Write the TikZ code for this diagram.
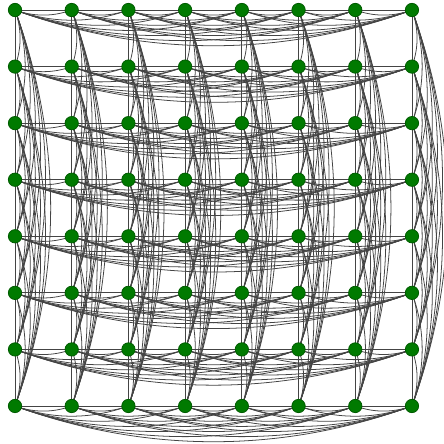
\documentclass[tikz,border=0pt]{standalone}
\usepackage{tikz}
\usetikzlibrary{backgrounds}
\definecolor{vertexfill}{HTML}{007A00}
\definecolor{edgegray}{HTML}{444444}
\tikzset{
  vertex/.style={circle, draw=vertexfill!75!black, fill=vertexfill, inner sep=0pt,
    minimum size=0.24cm},
  gridline/.style={draw=edgegray, line width=0.45pt},
  arcedge/.style={draw=edgegray, line width=0.4pt, bend right=20, looseness=0.9}
}
\begin{document}
\begin{tikzpicture}[x=0.018018cm,y=-0.018018cm]
  \useasboundingbox (0,0) rectangle (444,444);
  \foreach \i in {0,...,7} {
    \foreach \j in {0,...,7} {
      \node[vertex] (n-\i-\j) at (15+56.71*\i,10+56.57*\j) {};
    }
  }
  \begin{scope}[on background layer]
    % straight rows and columns
    \foreach \k in {0,...,7} {
      \draw[gridline] (n-0-\k.center) -- (n-7-\k.center);
      \draw[gridline] (n-\k-0.center) -- (n-\k-7.center);
    }
    % every pair in a row or column
    \foreach \a in {0,...,6} {
      \pgfmathtruncatemacro{\s}{\a+1}
      \foreach \b in {\s,...,7} {
        \foreach \k in {0,...,7} {
          \draw[arcedge] (n-\a-\k.center) to (n-\b-\k.center);
          \draw[arcedge] (n-\k-\b.center) to (n-\k-\a.center);
        }
      }
    }
  \end{scope}
\end{tikzpicture}
\end{document}
